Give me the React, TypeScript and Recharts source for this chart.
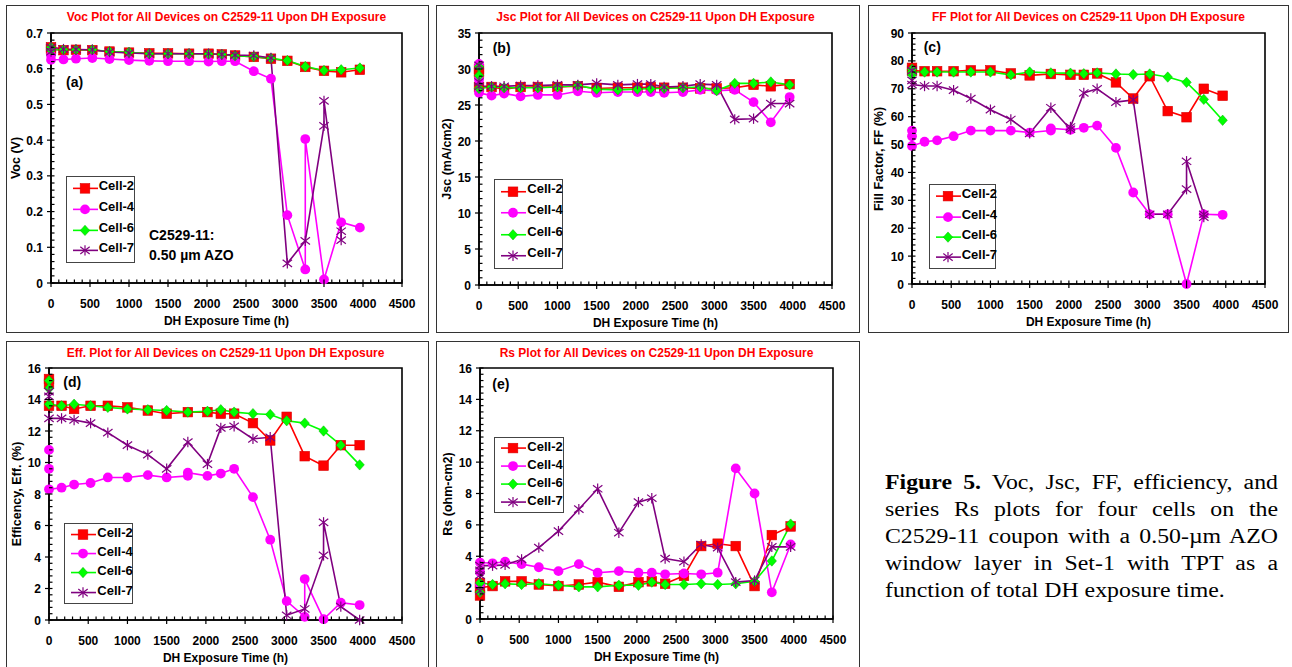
import React from 'react'
import { LineChart, Line, XAxis, YAxis, ReferenceArea } from 'recharts'

type Pt = [number, number]

// Voc (V) vs DH hours
const vocCell2: Pt[] = [[0, 0.66], [0, 0.655], [160, 0.652], [320, 0.653], [530, 0.652], [750, 0.648], [1000, 0.645], [1260, 0.643], [1500, 0.643], [1770, 0.642], [2020, 0.642], [2190, 0.64], [2360, 0.637], [2600, 0.633], [2820, 0.628], [3030, 0.622], [3260, 0.605], [3500, 0.594], [3720, 0.59], [3960, 0.597]]
const vocCell4: Pt[] = [[0, 0.638], [0, 0.625], [160, 0.626], [320, 0.628], [530, 0.63], [750, 0.627], [1000, 0.624], [1260, 0.622], [1500, 0.621], [1770, 0.621], [2020, 0.62], [2190, 0.621], [2360, 0.621], [2600, 0.593], [2820, 0.572], [3030, 0.19], [3260, 0.038], [3260, 0.403], [3500, 0.01], [3720, 0.17], [3960, 0.155]]
const vocCell6: Pt[] = [[0, 0.66], [0, 0.653], [160, 0.653], [320, 0.653], [530, 0.653], [750, 0.648], [1000, 0.646], [1260, 0.642], [1500, 0.642], [1770, 0.642], [2020, 0.641], [2190, 0.64], [2360, 0.636], [2600, 0.634], [2820, 0.629], [3030, 0.623], [3260, 0.606], [3500, 0.595], [3720, 0.597], [3960, 0.602]]
const vocCell7: Pt[] = [[0, 0.648], [0, 0.66], [160, 0.655], [320, 0.654], [530, 0.653], [750, 0.647], [1000, 0.644], [1260, 0.642], [1500, 0.642], [1770, 0.642], [2020, 0.642], [2190, 0.64], [2360, 0.638], [2600, 0.637], [2820, 0.63], [3030, 0.055], [3260, 0.118], [3500, 0.44], [3500, 0.51], [3720, 0.145], [3720, 0.12]]

// Jsc (mA/cm2)
const jscCell2: Pt[] = [[0, 30.0], [0, 29.5], [0, 27.5], [160, 27.5], [320, 27.2], [530, 27.5], [750, 27.5], [1000, 27.5], [1260, 27.6], [1500, 27.3], [1770, 27.4], [2020, 27.4], [2190, 27.5], [2360, 27.4], [2600, 27.4], [2820, 27.3], [3030, 27.3], [3260, 27.4], [3500, 27.8], [3720, 27.6], [3960, 27.9]]
const jscCell4: Pt[] = [[0, 30.7], [0, 28.5], [0, 26.7], [160, 26.3], [320, 26.6], [530, 26.2], [750, 26.4], [1000, 26.4], [1260, 26.9], [1500, 26.7], [1770, 26.8], [2020, 26.8], [2190, 26.8], [2360, 26.7], [2600, 26.8], [2820, 27.1], [3030, 27.0], [3260, 27.1], [3500, 25.4], [3720, 22.6], [3960, 26.1]]
const jscCell6: Pt[] = [[0, 30.3], [0, 29.1], [0, 27.3], [160, 27.5], [320, 27.4], [530, 27.4], [750, 27.4], [1000, 27.5], [1260, 27.7], [1500, 27.2], [1770, 27.1], [2020, 27.2], [2190, 27.3], [2360, 27.3], [2600, 27.4], [2820, 27.5], [3030, 27.0], [3260, 28.0], [3500, 28.0], [3720, 28.2], [3960, 27.8]]
const jscCell7: Pt[] = [[0, 30.5], [0, 28.2], [0, 27.6], [160, 27.6], [320, 27.6], [530, 27.7], [750, 27.7], [1000, 27.8], [1260, 27.8], [1500, 28.0], [1770, 27.8], [2020, 27.9], [2190, 27.9], [2360, 27.5], [2600, 27.6], [2820, 27.9], [3030, 27.8], [3260, 23.0], [3500, 23.1], [3720, 25.2], [3960, 25.2]]

// Fill factor (%)
const ffCell2: Pt[] = [[0, 77.5], [0, 76.5], [160, 76.3], [320, 76.3], [530, 76.3], [750, 76.6], [1000, 76.6], [1260, 75.5], [1500, 74.8], [1770, 75.3], [2020, 75.0], [2190, 75.0], [2360, 75.5], [2600, 72.3], [2820, 66.5], [3030, 74.5], [3260, 62.0], [3500, 59.8], [3720, 70.0], [3960, 67.5]]
const ffCell4: Pt[] = [[0, 55], [0, 53], [0, 49.5], [160, 51], [320, 51.5], [530, 53], [750, 55], [1000, 55], [1260, 55], [1500, 54.3], [1770, 55], [1770, 55.8], [2020, 55.3], [2190, 56], [2360, 56.8], [2600, 48.8], [2820, 32.8], [3030, 25], [3260, 25], [3500, 0], [3720, 25], [3960, 24.8]]
const ffCell6: Pt[] = [[0, 77], [0, 75], [0, 76], [160, 76], [320, 76], [530, 76], [750, 76], [1000, 76], [1260, 75], [1500, 76], [1770, 75.7], [2020, 75.6], [2190, 75.4], [2360, 75.7], [2600, 75.3], [2820, 75.1], [3030, 75.3], [3260, 74.2], [3500, 72.3], [3720, 66.2], [3960, 58.7]]
const ffCell7: Pt[] = [[0, 76.5], [0, 73], [0, 71.5], [160, 71], [320, 71], [530, 69.5], [750, 66.5], [1000, 62.5], [1260, 59], [1500, 54], [1770, 63.2], [2020, 55.5], [2020, 56.3], [2190, 68.5], [2360, 70], [2600, 65.2], [2820, 66], [3030, 25], [3260, 25], [3500, 34], [3500, 44], [3720, 25], [3720, 24]]

// Efficiency (%)
const effCell2: Pt[] = [[0, 15.3], [0, 15.0], [0, 13.6], [160, 13.6], [320, 13.4], [530, 13.6], [750, 13.6], [1000, 13.5], [1260, 13.3], [1500, 13.1], [1770, 13.2], [2020, 13.2], [2190, 13.1], [2360, 13.1], [2600, 12.5], [2820, 11.4], [3030, 12.9], [3260, 10.4], [3500, 9.8], [3720, 11.1], [3960, 11.1]]
const effCell4: Pt[] = [[0, 10.8], [0, 9.6], [0, 8.3], [160, 8.4], [320, 8.6], [530, 8.7], [750, 9.05], [1000, 9.05], [1260, 9.2], [1500, 9.05], [1770, 9.15], [1770, 9.35], [2020, 9.15], [2190, 9.3], [2360, 9.6], [2600, 7.8], [2820, 5.1], [3030, 1.2], [3260, 0.2], [3260, 2.6], [3500, 0.05], [3720, 1.1], [3960, 0.95]]
const effCell6: Pt[] = [[0, 15.2], [0, 14.7], [0, 13.7], [160, 13.6], [320, 13.7], [530, 13.6], [750, 13.5], [1000, 13.4], [1260, 13.35], [1500, 13.3], [1770, 13.2], [2020, 13.25], [2190, 13.35], [2360, 13.2], [2600, 13.1], [2820, 13.05], [3030, 12.65], [3260, 12.5], [3500, 12.0], [3720, 11.1], [3960, 9.85]]
const effCell7: Pt[] = [[0, 14.5], [0, 14.2], [0, 12.8], [160, 12.8], [320, 12.7], [530, 12.5], [750, 11.9], [1000, 11.1], [1260, 10.5], [1500, 9.6], [1770, 11.3], [2020, 9.9], [2190, 12.2], [2360, 12.3], [2600, 11.5], [2820, 11.6], [3030, 0.3], [3260, 0.7], [3500, 4.1], [3500, 6.2], [3720, 0.85], [3960, 0]]

// Rs (ohm-cm2)
const rsCell2: Pt[] = [[0, 2.3], [0, 1.5], [0, 2.0], [160, 2.1], [320, 2.4], [530, 2.4], [750, 2.2], [1000, 2.1], [1260, 2.2], [1500, 2.35], [1770, 2.05], [2020, 2.35], [2190, 2.4], [2360, 2.25], [2600, 2.75], [2820, 4.65], [3030, 4.8], [3260, 4.65], [3500, 2.1], [3720, 5.35], [3960, 5.9]]
const rsCell4: Pt[] = [[0, 2.2], [0, 3.0], [0, 3.6], [160, 3.55], [320, 3.65], [530, 3.5], [750, 3.3], [1000, 3.05], [1260, 3.5], [1500, 2.95], [1770, 3.05], [2020, 2.95], [2190, 2.95], [2360, 2.85], [2600, 2.9], [2820, 2.85], [3030, 2.95], [3260, 9.6], [3500, 8.0], [3720, 1.7], [3960, 4.75]]
const rsCell6: Pt[] = [[0, 1.7], [0, 2.3], [160, 2.2], [320, 2.25], [530, 2.2], [750, 2.25], [1000, 2.15], [1260, 2.05], [1500, 2.05], [1770, 2.15], [2020, 2.15], [2190, 2.35], [2360, 2.2], [2600, 2.2], [2820, 2.25], [3030, 2.2], [3260, 2.25], [3500, 2.4], [3720, 3.7], [3960, 6.05]]
const rsCell7: Pt[] = [[0, 1.8], [0, 2.8], [0, 3.1], [0, 3.4], [160, 3.4], [320, 3.45], [530, 3.8], [750, 4.55], [1000, 5.6], [1260, 7.0], [1500, 8.3], [1770, 5.5], [2020, 7.45], [2190, 7.7], [2360, 3.85], [2600, 3.65], [2820, 4.75], [3030, 4.55], [3260, 2.35], [3500, 2.45], [3720, 4.6], [3960, 4.6]]

const hourTicks = [0, 500, 1000, 1500, 2000, 2500, 3000, 3500, 4000, 4500]
const vocTicks = [0, 0.1, 0.2, 0.3, 0.4, 0.5, 0.6, 0.7]
const jscTicks = [0, 5, 10, 15, 20, 25, 30, 35]
const ffTicks = [0, 10, 20, 30, 40, 50, 60, 70, 80, 90]
const effTicks = [0, 2, 4, 6, 8, 10, 12, 14, 16]
const rsTicks = [0, 2, 4, 6, 8, 10, 12, 14, 16]

const cellNames = ['Cell-2', 'Cell-4', 'Cell-6', 'Cell-7']
const cellColors = ['#ff0000', '#ff00ff', '#00ff00', '#800080']
const cellShapes = ['square', 'circle', 'diamond', 'star']

const FONT = '"Liberation Sans", Arial, Helvetica, sans-serif'

function minorTicks(max: number, step: number) {
  const out: number[] = []
  const n = Math.round(max / step)
  for (let i = 0; i <= n; i++) out.push(Math.round(i * step * 10000) / 10000)
  return out
}

function Marker({ cx, cy, shape, color }: { cx: number; cy: number; shape: string; color: string }) {
  if (cx == null || cy == null) return null
  if (shape === 'square')
    return <rect x={cx - 4.8} y={cy - 4.8} width={9.6} height={9.6} fill={color} stroke="#d80000" strokeWidth={0.6} />
  if (shape === 'circle') return <circle cx={cx} cy={cy} r={4.9} fill={color} />
  if (shape === 'diamond')
    return (
      <polygon
        points={`${cx},${cy - 5.2} ${cx + 4.7},${cy} ${cx},${cy + 5.2} ${cx - 4.7},${cy}`}
        fill={color}
        stroke="#00b000"
        strokeWidth={0.5}
      />
    )
  return (
    <g stroke={color} strokeWidth={1.2}>
      <line x1={cx} y1={cy - 5.2} x2={cx} y2={cy + 5.2} />
      <line x1={cx - 4.7} y1={cy - 3.6} x2={cx + 4.7} y2={cy + 3.6} />
      <line x1={cx - 4.7} y1={cy + 3.6} x2={cx + 4.7} y2={cy - 3.6} />
    </g>
  )
}

interface PanelCfg {
  box: [number, number, number, number]
  plot: [number, number, number, number]
  title: string
  yLabel: string
  yLabelX: number
  letter: string
  letterAt: [number, number]
  yTicks: number[]
  yMinor: number
  series: Pt[][]
  legend: [number, number, number, number]
}

const panels: PanelCfg[] = [
  {
    box: [6, 5, 429, 333], plot: [51, 33, 402, 283],
    title: 'Voc Plot for All Devices on C2529-11 Upon DH Exposure', yLabel: 'Voc (V)', yLabelX: 15.5,
    letter: '(a)', letterAt: [66, 82], yTicks: vocTicks, yMinor: 0.02,
    series: [vocCell2, vocCell4, vocCell6, vocCell7], legend: [65.7, 176, 135, 263],
  },
  {
    box: [436, 5, 860, 333], plot: [479, 33, 832, 285],
    title: 'Jsc Plot for All Devices on C2529-11 Upon DH Exposure', yLabel: 'Jsc (mA/cm2)', yLabelX: 447.3,
    letter: '(b)', letterAt: [492.7, 47.7], yTicks: jscTicks, yMinor: 1,
    series: [jscCell2, jscCell4, jscCell6, jscCell7], legend: [494.3, 178.7, 563.3, 268.7],
  },
  {
    box: [868, 5, 1289, 333], plot: [912, 33, 1265, 284],
    title: 'FF Plot for All Devices on C2529-11 Upon DH Exposure', yLabel: 'Fill Factor, FF (%)', yLabelX: 878.7,
    letter: '(c)', letterAt: [923.7, 46.7], yTicks: ffTicks, yMinor: 2,
    series: [ffCell2, ffCell4, ffCell6, ffCell7], legend: [928.7, 184.3, 996.3, 269.3],
  },
  {
    box: [6, 341, 429, 668], plot: [49, 368, 402, 620],
    title: 'Eff. Plot for All Devices on C2529-11 Upon DH Exposure', yLabel: 'Efficency, Eff. (%)', yLabelX: 16.7,
    letter: '(d)', letterAt: [63.3, 381.7], yTicks: effTicks, yMinor: 0.4,
    series: [effCell2, effCell4, effCell6, effCell7], legend: [64.3, 523.3, 133.3, 603.7],
  },
  {
    box: [436, 341, 860, 668], plot: [480, 368, 833, 619],
    title: 'Rs Plot for All Devices on C2529-11 Upon DH Exposure', yLabel: 'Rs (ohm-cm2)', yLabelX: 448.3,
    letter: '(e)', letterAt: [492.3, 384.3], yTicks: rsTicks, yMinor: 0.4,
    series: [rsCell2, rsCell4, rsCell6, rsCell7], legend: [494.3, 436.7, 563.7, 513.3],
  },
]

function Legend({ at }: { at: [number, number, number, number] }) {
  const [l, t, r, b] = at
  const w = r - l
  const h = b - t
  const rowH = (h - 4) / 4
  return (
    <div style={{ position: 'absolute', left: l, top: t, width: w, height: h, boxSizing: 'border-box', border: '1.2px solid #444', background: '#fff' }}>
      {cellNames.map((name, i) => (
        <div key={name} style={{ position: 'absolute', left: 0, top: 1 + i * rowH, height: rowH, width: w }}>
          <svg width={32} height={rowH} style={{ position: 'absolute', left: 5, top: 0 }}>
            <line x1={1} x2={26} y1={rowH / 2} y2={rowH / 2} stroke={cellColors[i]} strokeWidth={1.6} />
            <Marker cx={13} cy={rowH / 2} shape={cellShapes[i]} color={cellColors[i]} />
          </svg>
          <div style={{ position: 'absolute', left: 32, top: 0, lineHeight: `${rowH}px`, font: `bold 13px ${FONT}`, whiteSpace: 'nowrap' }}>{name}</div>
        </div>
      ))}
    </div>
  )
}

function Panel({ cfg }: { cfg: PanelCfg }) {
  const [bl, bt, br, bb] = cfg.box
  const [pl, pt, pr, pb] = cfg.plot
  const w = br - bl
  const h = bb - bt
  const yMax = cfg.yTicks[cfg.yTicks.length - 1]
  const isMajorY = (v: number) => cfg.yTicks.some((m) => Math.abs(m - v) < 1e-6)

  const XTick = (p: any) => {
    const v = p.payload.value
    const major = hourTicks.includes(v)
    return (
      <g>
        <line x1={p.x} x2={p.x} y1={p.y - 3.5} y2={major ? p.y + 4 : p.y} stroke="#000" strokeWidth={1.2} />
        {major && (
          <text x={p.x} y={p.y + 24.5} textAnchor="middle" fontSize={12} fontWeight="bold" fontFamily={FONT} fill="#000">
            {v}
          </text>
        )}
      </g>
    )
  }

  const YTick = (p: any) => {
    const v = p.payload.value
    const major = isMajorY(v)
    return (
      <g>
        <line x1={major ? p.x - 4 : p.x} x2={p.x + 3.5} y1={p.y} y2={p.y} stroke="#000" strokeWidth={1.2} />
        {major && (
          <text x={p.x - 8} y={p.y + 4.5} textAnchor="end" fontSize={12} fontWeight="bold" fontFamily={FONT} fill="#000">
            {String(+v.toFixed(2))}
          </text>
        )}
      </g>
    )
  }

  const xMinor = minorTicks(4500, 100)
  const yMinor = minorTicks(yMax, cfg.yMinor)

  return (
    <>
      <div style={{ position: 'absolute', left: bl, top: bt, width: w, height: h, boxSizing: 'border-box', border: '1.5px solid #333' }} />
      <div style={{ position: 'absolute', left: bl, top: bt }}>
        <LineChart width={w} height={h} margin={{ top: pt - bt, right: br - pr, left: 0, bottom: 0 }}>
          <XAxis
            dataKey="h"
            type="number"
            domain={[0, 4500]}
            ticks={xMinor}
            interval={0}
            tickSize={0}
            tickMargin={0}
            tickLine={false}
            axisLine={{ stroke: '#000', strokeWidth: 1.5 }}
            tick={XTick}
            height={bb - pb}
          />
          <YAxis
            type="number"
            domain={[0, yMax]}
            ticks={yMinor}
            interval={0}
            tickSize={0}
            tickMargin={0}
            tickLine={false}
            axisLine={{ stroke: '#000', strokeWidth: 1.5 }}
            tick={YTick}
            width={pl - bl}
          />
          <ReferenceArea x1={0} x2={4500} y1={0} y2={yMax} fill="none" fillOpacity={0} stroke="#000" strokeWidth={1.6} ifOverflow="visible" />
          {cfg.series.map((pts, i) => (
            <Line
              key={cellNames[i]}
              data={pts.map(([hr, v]) => ({ h: hr, v }))}
              dataKey="v"
              name={cellNames[i]}
              type="linear"
              stroke={cellColors[i]}
              strokeWidth={1.6}
              isAnimationActive={false}
              activeDot={false}
              dot={(p: any) => <Marker key={`${i}-${p.index}`} cx={p.cx} cy={p.cy} shape={cellShapes[i]} color={cellColors[i]} />}
            />
          ))}
        </LineChart>
      </div>
      <div style={{ position: 'absolute', left: pl, width: pr - pl, top: bt + 5, textAlign: 'center', font: `bold 12px ${FONT}`, color: '#ff0000', whiteSpace: 'nowrap', lineHeight: '14px' }}>
        {cfg.title}
      </div>
      <div style={{ position: 'absolute', left: pl, width: pr - pl, top: pb + 31, textAlign: 'center', font: `bold 12px ${FONT}`, whiteSpace: 'nowrap', lineHeight: '14px' }}>
        DH Exposure Time (h)
      </div>
      <div style={{ position: 'absolute', left: cfg.yLabelX, top: (pt + pb) / 2, transform: 'translate(-50%, -50%) rotate(-90deg)', font: `bold 12.5px ${FONT}`, whiteSpace: 'nowrap', lineHeight: '14px' }}>
        {cfg.yLabel}
      </div>
      <div style={{ position: 'absolute', left: cfg.letterAt[0], top: cfg.letterAt[1] - 9, font: `bold 14px ${FONT}`, lineHeight: '18px' }}>{cfg.letter}</div>
      <Legend at={cfg.legend} />
    </>
  )
}

const captionLines = [
  'series Rs plots for four cells on the',
  'C2529-11 coupon with a 0.50-\u00b5m AZO',
  'window layer in Set-1 with TPT as a',
  'function of total DH exposure time.',
]

const CAP_SCALE = 1.19

export default function App() {
  const lineStyle: React.CSSProperties = {
    position: 'absolute',
    left: 885,
    width: 393 / CAP_SCALE,
    font: '20px "Liberation Serif", "Times New Roman", serif',
    lineHeight: '26.85px',
    whiteSpace: 'normal',
    textAlign: 'justify',
    textAlignLast: 'justify',
    transform: `scaleX(${CAP_SCALE})`,
    transformOrigin: 'left top',
  }
  return (
    <div style={{ position: 'absolute', left: 0, top: 0, width: 1292, height: 667, overflow: 'hidden', background: '#fff', color: '#000' }}>
      {panels.map((p) => (
        <Panel key={p.letter} cfg={p} />
      ))}
      {/* C2529-11 note in panel (a) */}
      <div style={{ position: 'absolute', left: 149, top: 226, font: `bold 14px ${FONT}`, lineHeight: '19.5px', whiteSpace: 'nowrap' }}>
        C2529-11:
        <br />
        0.50 µm AZO
      </div>
      <div style={{ ...lineStyle, top: 469.1 }}>
        <b>Figure 5.</b> Voc, Jsc, FF, efficiency, and
      </div>
      {captionLines.map((t, i) => (
        <div
          key={i}
          style={{
            ...lineStyle,
            top: 469.1 + (i + 1) * 26.85,
            textAlignLast: i === captionLines.length - 1 ? 'left' : 'justify',
          }}
        >
          {t}
        </div>
      ))}
    </div>
  )
}
